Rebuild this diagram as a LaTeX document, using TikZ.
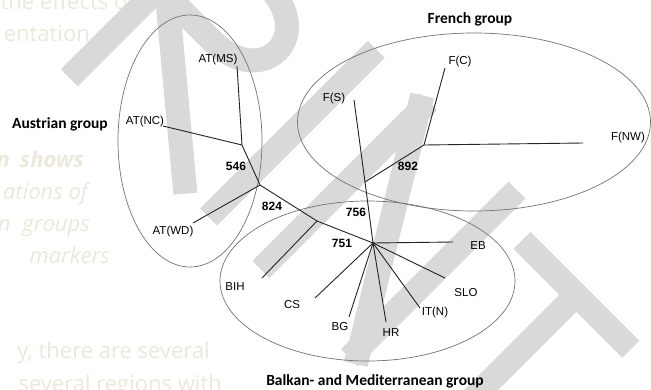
\documentclass[tikz,border=0pt]{standalone}
\usepackage{fontspec}
\setmainfont{Liberation Sans}
\newfontfamily\grpfont{Carlito}
\newfontfamily\bgfont{Open Sans}
\definecolor{bgtext}{RGB}{235,232,220}
\definecolor{wm}{RGB}{217,217,217}
\definecolor{treeline}{RGB}{35,35,35}
\definecolor{ellline}{RGB}{115,115,115}
\begin{document}
\begin{tikzpicture}[x=1pt,y=-1pt,
  leaf/.style={font=\fontsize{11.5}{13}\selectfont, inner sep=0pt},
  num/.style={font=\bfseries\fontsize{12}{14}\selectfont, inner sep=0pt},
  grp/.style={font=\grpfont\bfseries\fontsize{15.5}{18}\selectfont, inner sep=0pt},
  bgt/.style={font=\bgfont\fontsize{22}{26}\selectfont, text=bgtext, anchor=base east, inner sep=0pt},
  bgti/.style={bgt, font=\bgfont\itshape\fontsize{22}{26}\selectfont},
  branch/.style={draw=treeline, line width=0.9pt},
  grpell/.style={draw=ellline, line width=0.7pt},
  wmstroke/.style={draw=wm, line width=24pt, line join=miter},
]
\useasboundingbox (0,0) rectangle (651,389);
\fill[white] (0,0) rectangle (651,389);
\begin{scope}
\clip (0,0) rectangle (651,389);
% faded background text
\node[bgt] (t1) at (135,9) {the effects of};
\node[bgt] (t2) at (90,41) {entation};
\node[bgti, font=\bgfont\bfseries\itshape\fontsize{22}{26}\selectfont] (t3) at (84,167) {n\hspace{10pt}shows};
\node[bgti] (t4) at (88,199) {ations of};
\node[bgti] (t5) at (90,231) {n\hspace{12pt}groups};
\node[bgti] (t6) at (110,263) {markers};
\node[bgt] (t7) at (210,358) {y, there are several};
\node[bgt] (t8) at (222,391) {several regions with};
% watermark
\begin{scope}[shift={(10,-10)}, x={(0.7071pt,-0.7071pt)}, y={(0.7071pt,0.7071pt)}]
\clip (-300,0) rectangle (900,197);
\draw[wmstroke] (104,-20) -- (104,185) -- (178,185) .. controls (250,185) and (250,107) .. (178,107) -- (104,107);
\draw[wmstroke] (115,107) -- (268,-20);
\draw[wmstroke] (301,-20) -- (301,217);
\draw[wmstroke] (375,-20) -- (375,217);
\draw[wmstroke] (366,217) -- (509,-20);
\draw[wmstroke] (500,-20) -- (500,217);
\draw[wmstroke] (539,185) -- (693,185);
\draw[wmstroke] (616,-20) -- (616,185);
\end{scope}
\end{scope}
% group ellipses
\draw[grpell] (190,141) ellipse [x radius=72pt, y radius=126pt];
\draw[grpell] (474,122) ellipse [x radius=176.5pt, y radius=89pt];
\draw[grpell] (367.5,281) ellipse [x radius=147.5pt, y radius=80pt];
% group labels
\node[grp] (austrian) at (60,124) {Austrian group};
\node[grp] (french) at (470,19) {French group};
\node[grp] (balkan) at (375,381) {Balkan- and Mediterranean group};
% leaf labels
\node[leaf] (ATMS) at (218,60) {AT(MS)};
\node[leaf] (ATNC) at (145,122) {AT(NC)};
\node[leaf] (ATWD) at (173,232) {AT(WD)};
\node[leaf] (FS) at (334,99) {F(S)};
\node[leaf] (FC) at (460,62) {F(C)};
\node[leaf] (FNW) at (628,138) {F(NW)};
\node[leaf] (EB) at (478,246) {EB};
\node[leaf] (SLO) at (466,293) {SLO};
\node[leaf] (ITN) at (435,313) {IT(N)};
\node[leaf] (HR) at (391,333) {HR};
\node[leaf] (BG) at (340,327) {BG};
\node[leaf] (CS) at (292,305) {CS};
\node[leaf] (BIH) at (235,287) {BIH};
% numbers
\node[num] (n546) at (236,166) {546};
\node[num] (n824) at (272,206) {824};
\node[num] (n892) at (408,166) {892};
\node[num] (n756) at (356,212) {756};
\node[num] (n751) at (342,243) {751};
% junctions and free ends
\coordinate (j546) at (242,145);
\coordinate (j824) at (260,185);
\coordinate (jbih) at (317,221);
\coordinate (hub) at (373,243);
\coordinate (j892) at (365,182);
\coordinate (jfr) at (424,145);
\coordinate (eATMS) at (237,66);
\coordinate (eATNC) at (163,126);
\coordinate (eATWD) at (193,223);
\coordinate (eFS) at (354,100);
\coordinate (eFC) at (445,68);
\coordinate (eFNW) at (583,143);
\coordinate (eBIH) at (262,278);
\coordinate (eEB) at (453,242);
\coordinate (eSLO) at (445,278);
\coordinate (eITN) at (420,308);
\coordinate (eHR) at (386,322);
\coordinate (eBG) at (349,317);
\coordinate (eCS) at (315,298);
% branches
\draw[branch] (eATMS) -- (j546);
\draw[branch] (eATNC) -- (j546);
\draw[branch] (j546) -- (j824);
\draw[branch] (eATWD) -- (j824);
\draw[branch] (j824) -- (jbih) -- (hub);
\draw[branch] (jbih) -- (eBIH);
\draw[branch] (hub) -- (j892) -- (eFS);
\draw[branch] (j892) -- (jfr);
\draw[branch] (jfr) -- (eFC);
\draw[branch] (jfr) -- (eFNW);
\draw[branch] (hub) -- (eEB);
\draw[branch] (hub) -- (eSLO);
\draw[branch] (hub) -- (eITN);
\draw[branch] (hub) -- (eHR);
\draw[branch] (hub) -- (eBG);
\draw[branch] (hub) -- (eCS);
\fill[treeline] (hub) circle (1.5pt);
\end{tikzpicture}
\end{document}
